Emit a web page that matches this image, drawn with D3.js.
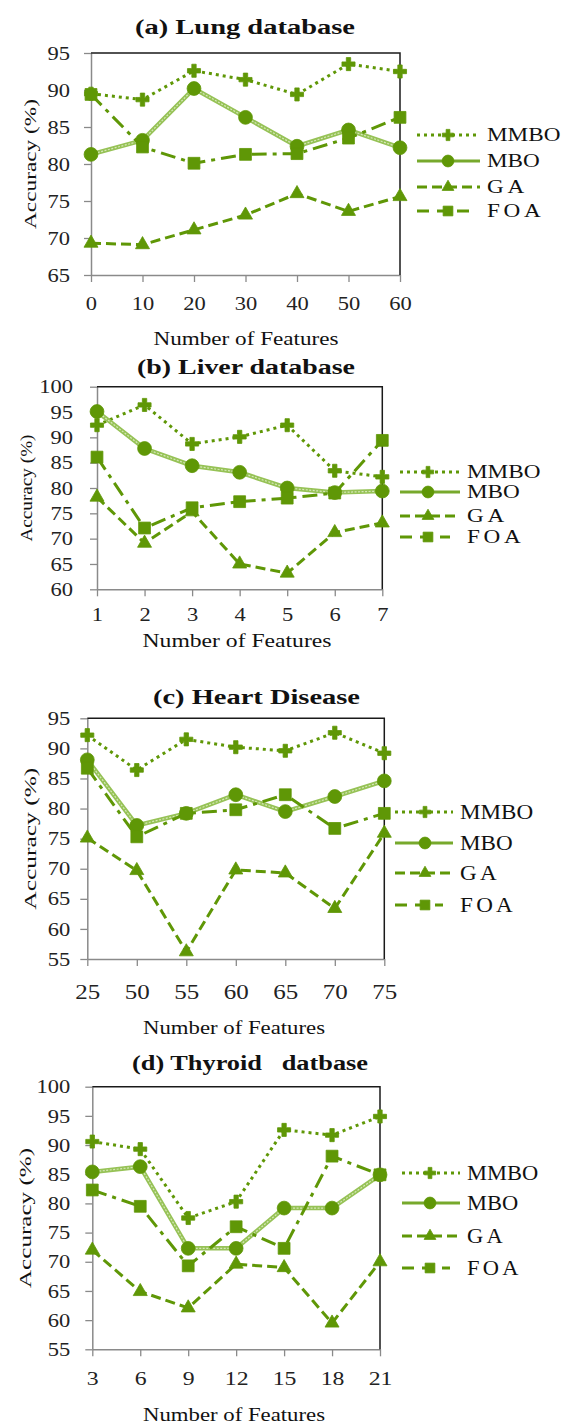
<!DOCTYPE html>
<html><head><meta charset="utf-8">
<script src="https://cdn.jsdelivr.net/npm/d3@7"></script>
<style>body{margin:0;background:#fff}svg{display:block}</style>
</head><body><svg id="c" width="565" height="1426"></svg>
<script>
// ---------- DATA ----------
const seriesNames = ["MMBO", "MBO", "GA", "FOA"];

const lungFeatures = ["0", "10", "20", "30", "40", "50", "60"];
const lungMMBO = [89.5, 88.7, 92.6, 91.4, 89.4, 93.5, 92.5];
const lungMBO  = [81.3, 83.2, 90.2, 86.3, 82.4, 84.6, 82.2];
const lungGA   = [69.3, 69.1, 71.1, 73.1, 76.0, 73.6, 75.6];
const lungFOA  = [89.4, 82.3, 80.1, 81.3, 81.4, 83.5, 86.3];
const lungYTicks = [65, 70, 75, 80, 85, 90, 95];

const liverFeatures = ["1", "2", "3", "4", "5", "6", "7"];
const liverMMBO = [92.4, 96.4, 88.7, 90.1, 92.4, 83.4, 82.2];
const liverMBO  = [95.1, 87.8, 84.4, 83.1, 80.0, 79.1, 79.4];
const liverGA   = [78.2, 69.1, 75.3, 65.0, 63.2, 71.2, 73.1];
const liverFOA  = [86.1, 72.1, 76.1, 77.3, 78.0, 79.0, 89.4];
const liverYTicks = [60, 65, 70, 75, 80, 85, 90, 95, 100];

const heartFeatures = ["25", "50", "55", "60", "65", "70", "75"];
const heartMMBO = [92.2, 86.4, 91.5, 90.2, 89.6, 92.6, 89.2];
const heartMBO  = [88.1, 77.2, 79.2, 82.3, 79.5, 82.0, 84.6];
const heartGA   = [75.1, 69.7, 56.2, 69.8, 69.3, 63.4, 75.9];
const heartFOA  = [86.7, 75.3, 79.2, 79.8, 82.3, 76.7, 79.2];
const heartYTicks = [55, 60, 65, 70, 75, 80, 85, 90, 95];

const thyroidFeatures = ["3", "6", "9", "12", "15", "18", "21"];
const thyroidMMBO = [90.6, 89.3, 77.5, 80.3, 92.6, 91.7, 94.9];
const thyroidMBO  = [85.4, 86.3, 72.3, 72.3, 79.2, 79.2, 84.9];
const thyroidGA   = [72.0, 64.9, 62.1, 69.6, 69.0, 59.5, 70.0];
const thyroidFOA  = [82.3, 79.5, 69.3, 76.0, 72.3, 88.1, 84.9];
const thyroidYTicks = [55, 60, 65, 70, 75, 80, 85, 90, 95, 100];

const titles = ["(a) Lung database", "(b) Liver database", "(c) Heart Disease", "(d) Thyroid\u00a0\u00a0 datbase"];
const xAxisTitle = "Number of Features";
const yAxisTitle = "Accuracy (%)";

// ---------- LAYOUT ----------
const layouts = [
  {left:91, right:400, top:53, bottom:275, tx:245, ty:34, tw:220, lx:246, ly:345, lw:185, yx:36, yw:130, gap:21, xdy:35, xfs:18,
   leg:{x0:417, x1:480, mx:448, tx:487, rows:[135,161,187,211], fs:19, sx:1.22}},
  {left:97, right:382.3, top:386.7, bottom:589.3, tx:246, ty:374, tw:218, lx:237, ly:647, lw:189, yx:32, yw:107, gap:24, xdy:32, xfs:18,
   leg:{x0:400, x1:460, mx:428, tx:467, rows:[472,492,516,537], fs:19, sx:1.22}},
  {left:87.3, right:384.3, top:718.3, bottom:959, tx:256.5, ty:704, tw:207, lx:234, ly:1034, lw:182, yx:36, yw:142, gap:17, xdy:40, xfs:20,
   leg:{x0:395, x1:453, mx:425, tx:460, rows:[812,843,873,905], fs:21, sx:1.1}},
  {left:92.3, right:380, top:1086.7, bottom:1349.3, tx:250, ty:1070, tw:236, lx:234, ly:1421, lw:182, yx:31, yw:140, gap:22, xdy:36, xfs:19,
   leg:{x0:402, x1:460, mx:430, tx:467, rows:[1173,1203,1236,1268], fs:21, sx:1.07}}
];

const panels = [
  {cats: lungFeatures, series: [lungMMBO, lungMBO, lungGA, lungFOA], yTicks: lungYTicks},
  {cats: liverFeatures, series: [liverMMBO, liverMBO, liverGA, liverFOA], yTicks: liverYTicks},
  {cats: heartFeatures, series: [heartMMBO, heartMBO, heartGA, heartFOA], yTicks: heartYTicks},
  {cats: thyroidFeatures, series: [thyroidMMBO, thyroidMBO, thyroidGA, thyroidFOA], yTicks: thyroidYTicks}
];

const GREEN = "#5f9706";
const MBO_LIGHT = "#96c256";
const FONT = "'Liberation Serif','Times New Roman',serif";
const styles = [
  {dash:"3,4", w:3, sym:d3.symbolCross, size:95, lsize:70},
  {dash:null, w:4, sym:d3.symbolCircle, size:150, lsize:110},
  {dash:"10,5", w:3, sym:d3.symbolTriangle, size:85, lsize:60},
  {dash:"15,6,4,6", w:3, sym:d3.symbolSquare, size:140, lsize:95}
];

const svg = d3.select("#c");

panels.forEach((p, pi) => {
  const L = layouts[pi];
  const g = svg.append("g");
  const x = d3.scalePoint().domain(p.cats).range([L.left, L.right]);
  const y = d3.scaleLinear().domain([p.yTicks[0], p.yTicks[p.yTicks.length-1]]).range([L.bottom, L.top]);

  // title
  g.append("text").attr("x", L.tx).attr("y", L.ty).attr("text-anchor","middle")
    .attr("font-family", FONT).attr("font-weight","bold").attr("font-size", 20)
    .attr("textLength", L.tw).attr("lengthAdjust","spacingAndGlyphs").attr("fill","#111")
    .text(titles[pi]);

  // axes
  const ax = g.append("g").attr("transform", `translate(${L.left},0)`)
    .call(d3.axisLeft(y).tickValues(p.yTicks).tickSize(7).tickSizeOuter(0));
  ax.select(".domain").attr("stroke","#8a8a8a").attr("stroke-width",1.5);
  ax.selectAll(".tick line").attr("stroke","#8a8a8a").attr("stroke-width",1.3);
  ax.selectAll(".tick text").attr("x", 0).attr("dy","0.34em")
    .attr("transform", `translate(${-L.gap},0) scale(1.25,1)`)
    .attr("font-family", FONT).attr("font-size", 18).attr("fill","#222");

  const bx = g.append("g").attr("transform", `translate(0,${L.bottom})`)
    .call(d3.axisBottom(x).tickSize(7).tickSizeOuter(0));
  bx.select(".domain").attr("stroke","#8a8a8a").attr("stroke-width",1.5);
  bx.selectAll(".tick line").attr("stroke","#8a8a8a").attr("stroke-width",1.3);
  bx.selectAll(".tick text").attr("y", 0).attr("dy", 0)
    .attr("transform", `translate(0,${L.xdy}) scale(1.25,1)`)
    .attr("font-family", FONT).attr("font-size", L.xfs).attr("fill","#222");

  // top and right border
  g.append("path").attr("d", `M${L.left},${L.top}H${L.right}V${L.bottom}`)
    .attr("fill","none").attr("stroke","#1a1a1a").attr("stroke-width",1.5);

  // axis titles
  g.append("text").attr("x", L.lx).attr("y", L.ly).attr("text-anchor","middle")
    .attr("font-family", FONT).attr("font-size", 18).attr("fill","#111")
    .attr("textLength", L.lw).attr("lengthAdjust","spacingAndGlyphs").text(xAxisTitle);
  g.append("text").attr("transform", `translate(${L.yx},${(L.top+L.bottom)/2}) rotate(-90)`)
    .attr("text-anchor","middle").attr("font-family", FONT).attr("font-size", 17).attr("fill","#111")
    .attr("textLength", L.yw).attr("lengthAdjust","spacingAndGlyphs").text(yAxisTitle);

  // series
  p.series.forEach((vals, si) => {
    const st = styles[si];
    const pts = vals.map((v, i) => [x(p.cats[i]), y(v)]);
    const line = d3.line();
    if (si === 1) {
      g.append("path").attr("d", line(pts)).attr("fill","none").attr("stroke", MBO_LIGHT).attr("stroke-width", 4.5);
      g.append("path").attr("d", line(pts)).attr("fill","none").attr("stroke", "#d6e8b8").attr("stroke-width", 1.2).attr("stroke-dasharray","2,1.5");
    } else {
      g.append("path").attr("d", line(pts)).attr("fill","none").attr("stroke", GREEN)
        .attr("stroke-width", st.w).attr("stroke-dasharray", st.dash);
    }
    g.selectAll(null).data(pts).enter().append("path")
      .attr("transform", d => `translate(${d[0]},${d[1]})`)
      .attr("d", d3.symbol().type(st.sym).size(st.size)())
      .attr("fill", GREEN).attr("stroke", GREEN).attr("stroke-width", 0.8);
  });

  // legend
  const lg = L.leg;
  seriesNames.forEach((name, si) => {
    const st = styles[si];
    const ry = lg.rows[si];
    const x1 = si === 3 ? lg.x1 - 10 : lg.x1;
    const ln = g.append("line").attr("x1", lg.x0).attr("x2", x1).attr("y1", ry).attr("y2", ry)
      .attr("stroke", si === 1 ? "#77a92c" : GREEN).attr("stroke-width", 3);
    if (st.dash) ln.attr("stroke-dasharray", si === 3 ? "12,8" : st.dash);
    g.append("path").attr("transform", `translate(${lg.mx},${ry})`)
      .attr("d", d3.symbol().type(st.sym).size(st.lsize)())
      .attr("fill", GREEN).attr("stroke", GREEN).attr("stroke-width", 0.8);
    g.append("text").attr("transform", `translate(${lg.tx},${ry + lg.fs*0.34}) scale(${lg.sx},1)`)
      .attr("font-family", FONT).attr("font-size", lg.fs).attr("fill","#111")
      .attr("letter-spacing", si >= 2 ? 3 : 0)
      .text(name);
  });
});
</script>
</body></html>
